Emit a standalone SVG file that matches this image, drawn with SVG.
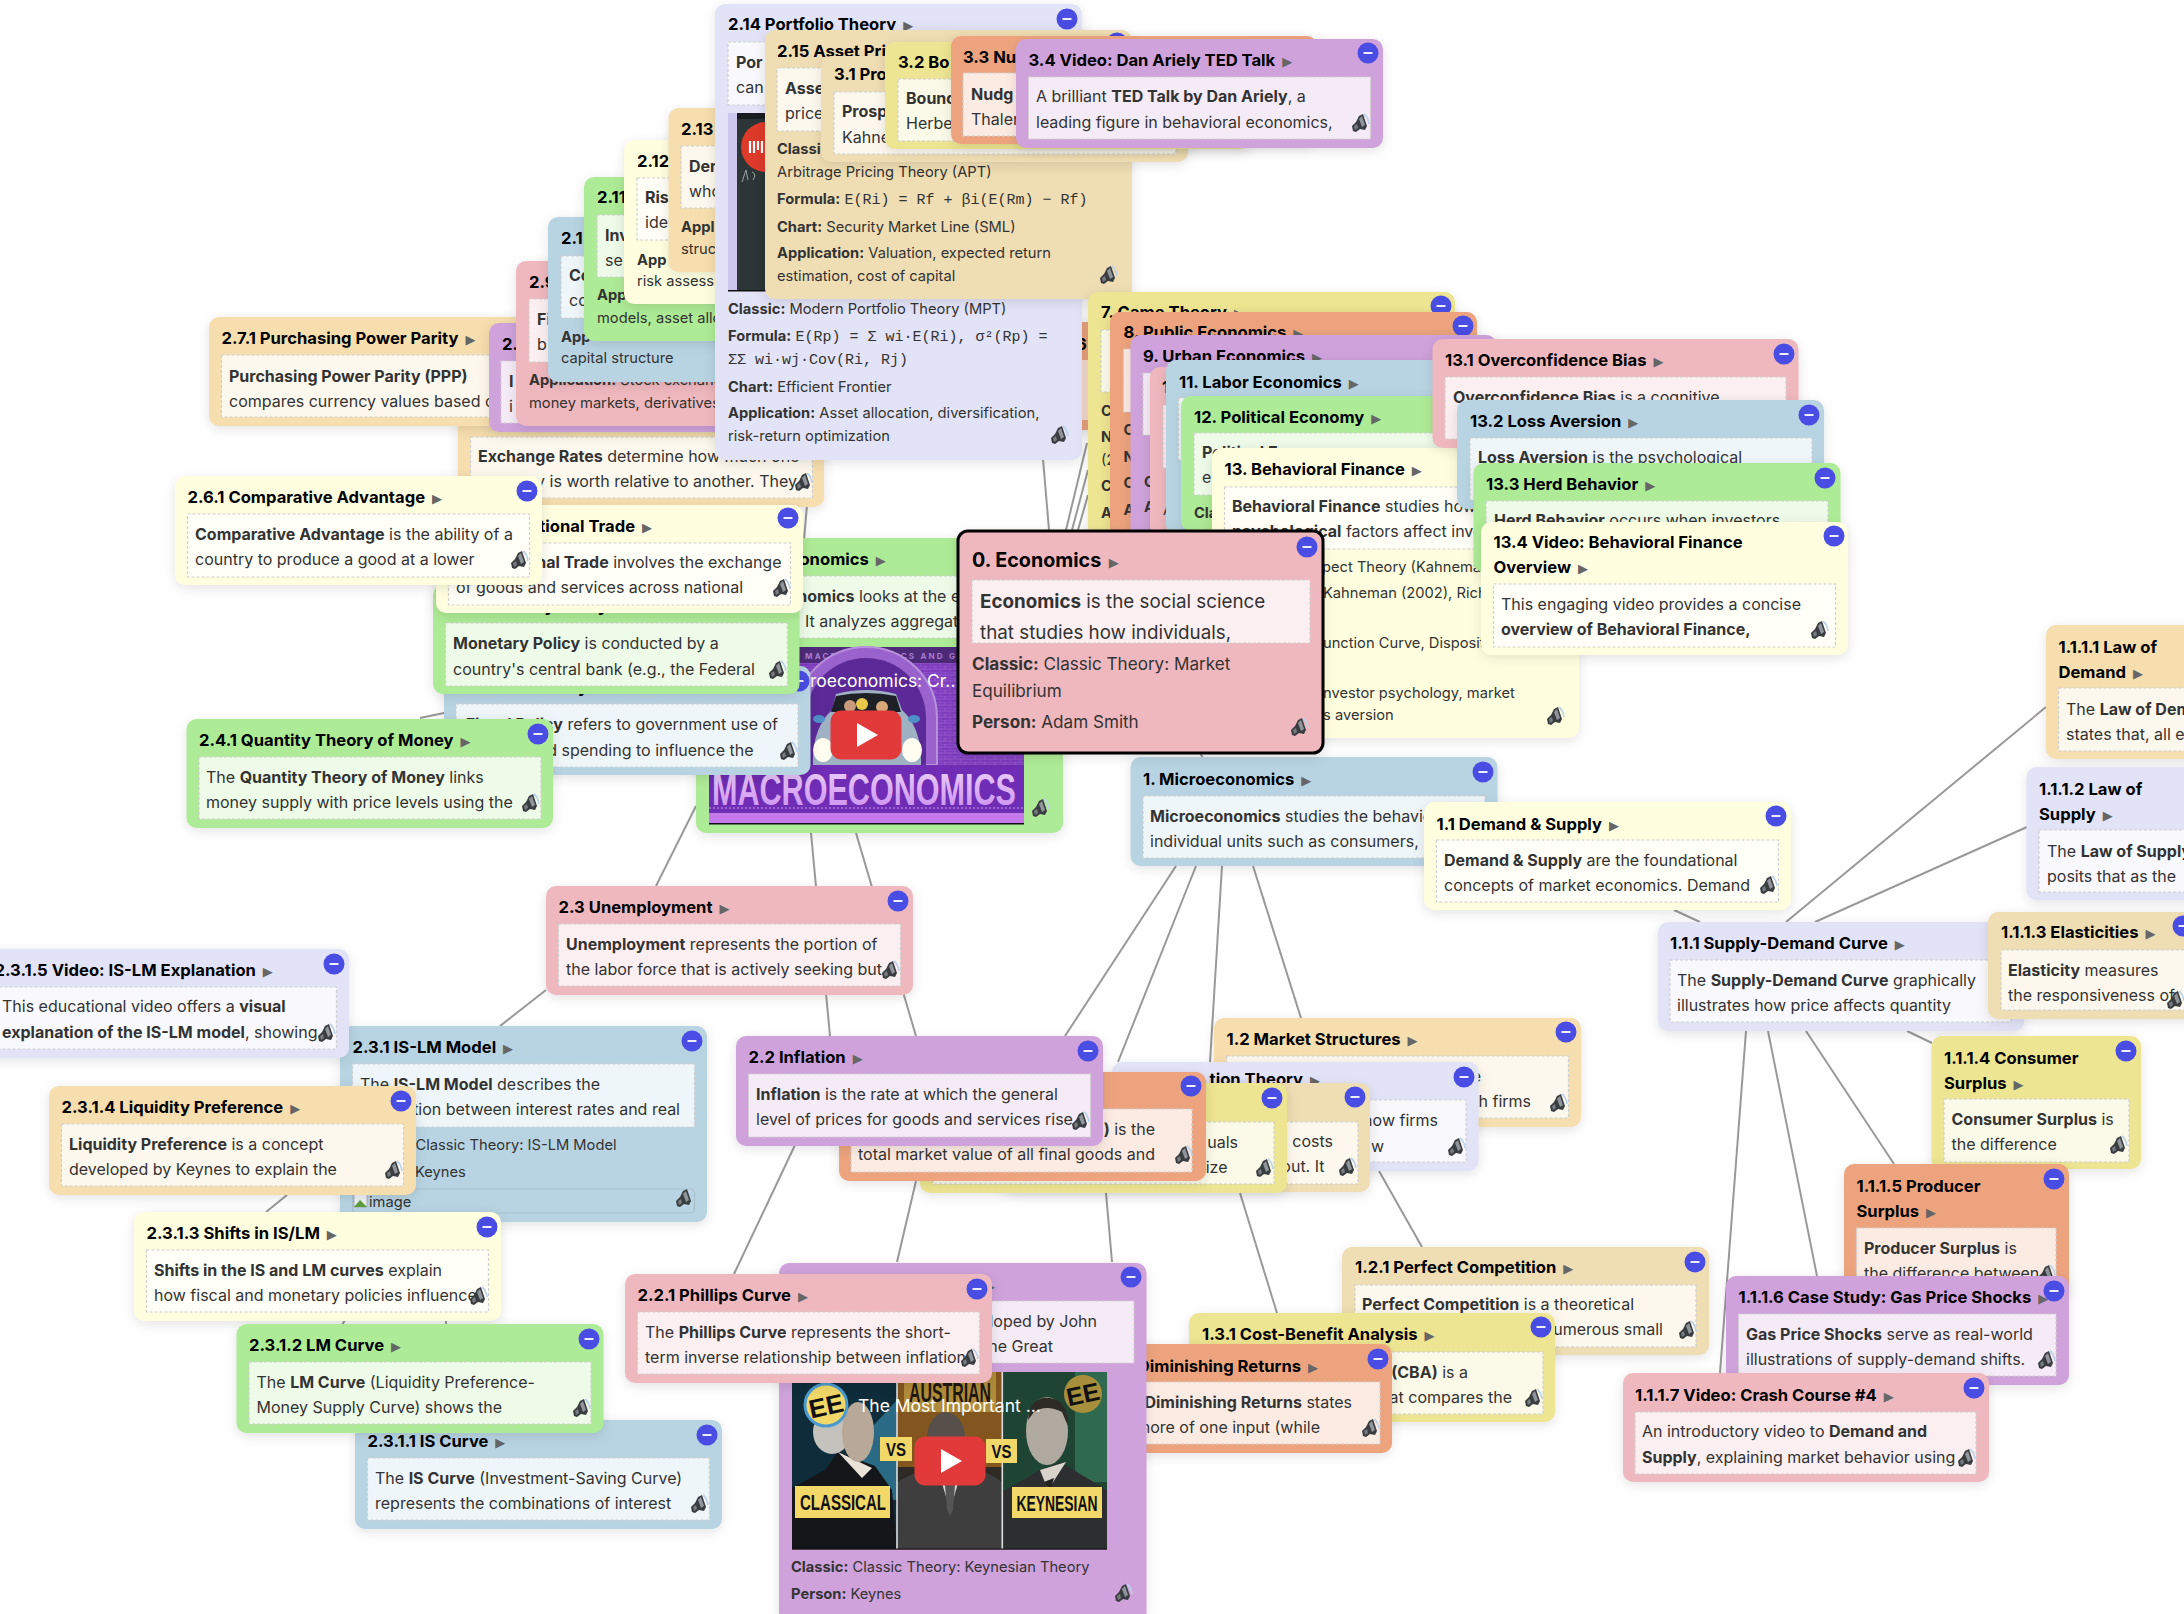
<svg xmlns="http://www.w3.org/2000/svg" width="2184" height="1614" viewBox="0 0 2184 1614">
<style>
text{font-family:Inter,"Noto Sans","Liberation Sans",sans-serif;fill:#333}
.card{filter:drop-shadow(0 3px 6px rgba(0,0,0,.11))}
.pink{fill:#efb8be}.purple{fill:#cfa2db}.blue{fill:#b8d4e3}.green{fill:#aeeb96}.yel{fill:#ffffe0}.wheat{fill:#f6deae}.khaki{fill:#ede591}.org{fill:#eda47e}.lav{fill:#e2e3f7}.tan{fill:#efddb3}
.box{fill:rgba(255,255,255,.78);stroke:#d0d0d0;stroke-width:1.2;stroke-dasharray:3 2}
.t{font-size:16.600px;font-weight:700;fill:#000}
.a{font-size:13px;fill:#666;font-weight:400;font-family:"DejaVu Sans",sans-serif}
.b{font-size:16px}
.s{font-size:14.700px}
.h{font-weight:700}
.e{text-anchor:end}
.m{font-family:"Liberation Mono",monospace;font-size:15px}
.conn line{stroke:#999;stroke-width:2}
.vt{font-weight:700;fill:#111;font-family:"Liberation Sans",sans-serif}
</style>
<defs>
<g id="btn"><circle r="10.500" fill="#4a4de3"/><rect x="-4.500" y="-.9" width="9" height="1.800" fill="#fff"/></g>
<g id="spk"><path d="M-8 3-4-1-1-7 3-9 7 3 5 7 0 6-4 9-7 8Z" fill="#3a3d40"/><path d="M-1-4 2-7 5 2 2 4Z" fill="#8f959a"/><path d="M-6 3-3 1-2 5-5 7Z" fill="#777c80"/><path d="M4-9Q8-6 9 1" fill="none" stroke="#bcd2e8" stroke-width="1.600"/></g>
<g id="play"><rect x="-35.500" y="-24.500" width="71" height="49" rx="11" fill="#e23a3a"/><path d="M-9-12 12 0-9 12Z" fill="#fff"/></g>
<linearGradient id="mv" x1="0" y1="0" x2="1" y2="0"><stop offset="0" stop-color="#6a2bb8"/><stop offset=".5" stop-color="#8a3bcc"/><stop offset="1" stop-color="#7d33c0"/></linearGradient>
<linearGradient id="mt" x1="0" y1="0" x2="0" y2="1"><stop offset="0" stop-color="#f0d4fa"/><stop offset="1" stop-color="#c98af0"/></linearGradient>
<pattern id="bk" width="10" height="6" patternUnits="userSpaceOnUse"><rect width="10" height="6" fill="#7f3dbe"/><path d="M0 0H10M0 3H10M5 0V3M0 3V6" stroke="#9a62d2" stroke-width=".7"/></pattern>
</defs>

<g class="conn" id="connectors">
<line x1="1049" y1="530" x2="1043" y2="459"/><line x1="1066" y1="530" x2="1087" y2="443"/><line x1="1072" y1="530" x2="1088" y2="470"/><line x1="1078" y1="530" x2="1088" y2="495"/>
<line x1="804" y1="540" x2="807" y2="505"/><line x1="1199" y1="750" x2="1205" y2="763"/>
<line x1="696" y1="806" x2="656" y2="886"/><line x1="811" y1="833" x2="830" y2="1036"/><line x1="856" y1="833" x2="916" y2="1036"/>
<line x1="795" y1="1145" x2="734" y2="1274"/><line x1="916" y1="1181" x2="897" y2="1262"/><line x1="1106" y1="1193" x2="1112" y2="1262"/>
<line x1="1176" y1="866" x2="1065" y2="1036"/><line x1="1196" y1="866" x2="1118" y2="1062"/><line x1="1222" y1="866" x2="1210" y2="1062"/><line x1="1253" y1="866" x2="1301" y2="1018"/>
<line x1="1240" y1="1193" x2="1277" y2="1313"/><line x1="1379" y1="1171" x2="1422" y2="1247"/>
<line x1="1674" y1="910" x2="1700" y2="922"/><line x1="1746" y1="1031" x2="1720" y2="1373"/><line x1="1768" y1="1031" x2="1817" y2="1276"/><line x1="1806" y1="1031" x2="1894" y2="1164"/><line x1="1907" y1="1031" x2="1932" y2="1043"/>
<line x1="2046" y1="707" x2="1786" y2="922"/><line x1="2027" y1="827" x2="1815" y2="922"/>
<line x1="546" y1="990" x2="500" y2="1026"/><line x1="287" y1="1195" x2="266" y2="1212"/><line x1="345" y1="1320" x2="342" y2="1325"/><line x1="446" y1="1320" x2="446" y2="1325"/><line x1="420" y1="718" x2="444" y2="713"/>
</g>

<g id="n2" class="node">
<rect class="card green" x="696" y="538" width="367" height="295" rx="10"/>
<text class="t" x="709" y="565">2. Macroeconomics <tspan class="a" dx="3">▶</tspan></text>
<rect class="box" x="709" y="576" width="342" height="62"/>
<text class="b" x="719" y="602"><tspan class="h">Macroeconomics</tspan> looks at the economy</text>
<text class="b" x="805" y="627">It analyzes aggregate</text>
<rect x="709" y="647" width="315" height="177" fill="url(#bk)"/>
<rect x="709" y="647" width="315" height="16" fill="#4d2a78"/>
<text x="805" y="659" font-size="8" style="fill:#a87cd0;font-weight:700;letter-spacing:2.200px">MACROECONOMICS AND GDP</text>
<path d="M795 765V718A71 71 0 0 1 937 718V765Z" fill="#9a62cc" stroke="#b890dc" stroke-width="2"/>
<path d="M806 765V718A60 60 0 0 1 926 718V765Z" fill="#5c2a98"/>
<path d="M813 765Q812 728 832 710L836 694Q866 686 896 694L902 710Q922 728 921 765Z" fill="#9eb2c4"/>
<path d="M831 712 836 696Q866 690 896 696L901 712Z" fill="#1d2026"/>
<circle cx="850" cy="706" r="6" fill="#c99a7c"/><circle cx="862" cy="704" r="6" fill="#e8c848"/><circle cx="882" cy="707" r="6" fill="#d8a878"/>
<ellipse cx="819" cy="719" rx="6" ry="4" fill="#4f8fc8"/><ellipse cx="914" cy="719" rx="6" ry="4" fill="#4f8fc8"/>
<ellipse cx="823" cy="750" rx="10" ry="12" fill="#fffdf0"/><ellipse cx="912" cy="750" rx="10" ry="12" fill="#fffdf0"/>
<text x="810" y="687" font-size="17.500" style="fill:#fff">roeconomics: Cr...</text>
<rect x="709" y="765" width="315" height="48" fill="#6f2cb4"/>
<text class="vt" x="712" y="805" font-size="45" textLength="304" lengthAdjust="spacingAndGlyphs" style="fill:url(#mt)">MACROECONOMICS</text>
<path d="M709 808H1024" stroke="#c89ce8" stroke-width="1" stroke-dasharray="2 2"/>
<rect x="709" y="813" width="315" height="11" fill="#c679ea"/><rect x="709" y="823" width="315" height="1.500" fill="#111"/>
<use href="#play" x="866" y="735"/>
<use href="#spk" x="1040" y="808"/>
</g>

<g id="n2-7" class="node">
<rect class="card wheat" x="458" y="398" width="366" height="109" rx="10"/>
<rect class="box" x="470.500" y="437" width="342" height="61"/>
<text class="b" x="478" y="462"><tspan class="h">Exchange Rates</tspan> determine how much one</text>
<text class="b e" x="797" y="487">currency is worth relative to another. They</text>
<use href="#spk" x="803" y="482"/>
</g>
<g id="n2-7-1" class="node">
<rect class="card wheat" x="209" y="317" width="367" height="109" rx="10"/>
<text class="t" x="221.500" y="344">2.7.1 Purchasing Power Parity <tspan class="a" dx="3">▶</tspan></text>
<rect class="box" x="221.500" y="355" width="342" height="62"/>
<text class="b" x="229" y="382"><tspan class="h">Purchasing Power Parity (PPP)</tspan></text>
<text class="b" x="229" y="407">compares currency values based on</text>
</g>
<g id="n2-8" class="node">
<rect class="card purple" x="489" y="323" width="367" height="109" rx="10"/>
<text class="t" x="502" y="350">2.</text>
<rect class="box" x="501" y="361" width="342" height="62"/>
<text class="b h" x="509" y="387">I</text><text class="b" x="509" y="412">i</text>
</g>
<g id="n2-9" class="node">
<rect class="card pink" x="516" y="261" width="367" height="165" rx="10"/>
<text class="t" x="529" y="288">2.9</text>
<rect class="box" x="529" y="299" width="342" height="63"/>
<text class="b h" x="537" y="325">Fi</text><text class="b" x="537" y="350">b</text>
<text class="s" x="529" y="385"><tspan class="h">Application:</tspan> Stock exchanges,</text>
<text class="s" x="529" y="408">money markets, derivatives</text>
</g>
<g id="n2-10" class="node">
<rect class="card blue" x="548" y="217" width="367" height="165" rx="10"/>
<text class="t" x="561" y="244">2.1</text>
<rect class="box" x="561" y="256" width="342" height="62"/>
<text class="b h" x="569" y="281">Co</text><text class="b" x="569" y="306">cc</text>
<text class="s h" x="561" y="342">App</text>
<text class="s" x="561" y="363">capital structure</text>
</g>
<g id="n2-11" class="node">
<rect class="card green" x="584" y="177" width="367" height="164" rx="10"/>
<text class="t" x="597" y="203">2.11</text>
<rect class="box" x="597" y="215" width="342" height="62"/>
<text class="b h" x="605" y="241">Inv</text><text class="b" x="605" y="266">se</text>
<text class="s h" x="597" y="300">App</text>
<text class="s" x="597" y="323">models, asset allo</text>
</g>
<g id="n2-12" class="node">
<rect class="card yel" x="624" y="140" width="367" height="164" rx="10"/>
<text class="t" x="637" y="167">2.12</text>
<rect class="box" x="637" y="178" width="342" height="62"/>
<text class="b h" x="645" y="203">Ris</text><text class="b" x="645" y="228">ide</text>
<text class="s h" x="637" y="265">App</text>
<text class="s" x="637" y="286">risk assessm</text>
</g>
<g id="n2-13" class="node">
<rect class="card wheat" x="668.500" y="108" width="367" height="164" rx="10"/>
<text class="t" x="681" y="135">2.13</text>
<rect class="box" x="681" y="146" width="342" height="62"/>
<text class="b h" x="689" y="172">Der</text><text class="b" x="689" y="197">who</text>
<text class="s h" x="681" y="232">Appl</text>
<text class="s" x="681" y="254">struc</text>
</g>
<g id="n6" class="node">
<rect class="card org" x="1000" y="322" width="100" height="108" rx="10"/>
<rect x="1000" y="360" width="100" height="60" fill="#f7dcd0"/>
<text class="t" x="1076" y="350">6</text>
</g>
<g id="n2-14" class="node">
<rect class="card lav" x="715" y="4" width="367" height="456" rx="10"/>
<text class="t" x="728" y="30">2.14 Portfolio Theory <tspan class="a" dx="3">▶</tspan></text>
<rect class="box" x="728" y="42" width="342" height="63"/>
<text class="b h" x="736" y="68">Por</text><text class="b" x="736" y="93">can</text>
<rect x="728" y="113" width="60" height="178" fill="#2c3636"/>
<rect x="728" y="113" width="9" height="178" fill="#cdc7ee"/>
<rect x="737" y="113" width="50" height="6" fill="#181c20"/>
<circle cx="766" cy="147" r="25" fill="#de3a2a"/>
<path d="M750 141v12M754 141v12M758 141v9M762 141v12" stroke="#fff" stroke-width="2.200"/>
<path d="M742 182 746 170 748 180M752 172Q757 174 753 180" fill="none" stroke="#9aa4a4" stroke-width="1"/>
<rect x="728" y="290" width="60" height="1.500" fill="#111"/>
<text class="s" x="728" y="314"><tspan class="h">Classic:</tspan> Modern Portfolio Theory (MPT)</text>
<text class="s" x="728" y="341"><tspan class="h">Formula:</tspan> <tspan class="m">E(Rp) = Σ wi·E(Ri), σ²(Rp) =</tspan></text>
<text class="m" x="728" y="364">ΣΣ wi·wj·Cov(Ri, Rj)</text>
<text class="s" x="728" y="392"><tspan class="h">Chart:</tspan> Efficient Frontier</text>
<text class="s" x="728" y="418"><tspan class="h">Application:</tspan> Asset allocation, diversification,</text>
<text class="s" x="728" y="441">risk-return optimization</text>
<use href="#btn" x="1067" y="19"/><use href="#spk" x="1059" y="435"/>
</g>
<g id="n2-15" class="node">
<rect class="card tan" x="765" y="30" width="367" height="269" rx="10"/>
<text class="t" x="777" y="57">2.15 Asset Pri</text>
<rect class="box" x="777" y="68" width="342" height="63"/>
<text class="b h" x="785" y="94">Asse</text><text class="b" x="785" y="119">price</text>
<text class="s h" x="777" y="154">Classi</text>
<text class="s" x="777" y="177">Arbitrage Pricing Theory (APT)</text>
<text class="s" x="777" y="204"><tspan class="h">Formula:</tspan> <tspan class="m">E(Ri) = Rf + βi(E(Rm) − Rf)</tspan></text>
<text class="s" x="777" y="232"><tspan class="h">Chart:</tspan> Security Market Line (SML)</text>
<text class="s" x="777" y="258"><tspan class="h">Application:</tspan> Valuation, expected return</text>
<text class="s" x="777" y="281">estimation, cost of capital</text>
<use href="#btn" x="1117" y="43"/><use href="#spk" x="1108" y="275"/>
</g>
<g id="n3-1" class="node">
<rect class="card tan" x="821" y="56" width="367" height="106" rx="10"/>
<text class="t" x="834" y="80">3.1 Pro</text>
<rect class="box" x="834" y="92" width="342" height="62"/>
<text class="b h" x="842" y="117">Prosp</text><text class="b" x="842" y="143">Kahne</text>
</g>
<g id="n3-2" class="node">
<rect class="card khaki" x="885" y="42" width="365" height="107" rx="10"/>
<text class="t" x="898" y="68">3.2 Bo</text>
<rect class="box" x="898" y="79" width="340" height="62"/>
<text class="b h" x="906" y="104">Bound</text><text class="b" x="906" y="129">Herbe</text>
</g>
<g id="n3-3" class="node">
<rect class="card org" x="951" y="36" width="366" height="108" rx="10"/>
<text class="t" x="963" y="63">3.3 Nu</text>
<rect class="box" x="963" y="73" width="342" height="63"/>
<text class="b h" x="971" y="100">Nudg</text><text class="b" x="971" y="125">Thaler</text>
</g>
<g id="n3-4" class="node">
<rect class="card purple" x="1016" y="39" width="367" height="109" rx="10"/>
<text class="t" x="1028.500" y="66">3.4 Video: Dan Ariely TED Talk <tspan class="a" dx="3">▶</tspan></text>
<rect class="box" x="1028.500" y="77" width="342" height="62"/>
<text class="b" x="1036" y="102">A brilliant <tspan class="h">TED Talk by Dan Ariely</tspan>, a</text>
<text class="b" x="1036" y="128">leading figure in behavioral economics,</text>
<use href="#btn" x="1368" y="53"/><use href="#spk" x="1360" y="123"/>
</g>

<g id="n7" class="node">
<rect class="card khaki" x="1088" y="292" width="367" height="245" rx="10"/>
<text class="t" x="1101" y="318">7. Game Theory <tspan class="a" dx="3">▶</tspan></text>
<rect class="box" x="1101" y="330" width="342" height="62"/>
<text class="s h" x="1101" y="416">C</text><text class="s h" x="1101" y="442">N</text><text class="s" x="1101" y="465">(2</text><text class="s h" x="1101" y="491">C</text><text class="s h" x="1101" y="518">A</text>
<use href="#btn" x="1441" y="306"/>
</g>
<g id="n8" class="node">
<rect class="card org" x="1110" y="312" width="367" height="225" rx="10"/>
<text class="t" x="1123.500" y="338">8. Public Economics <tspan class="a" dx="3">▶</tspan></text>
<rect class="box" x="1123.500" y="349" width="342" height="63"/>
<text class="s h" x="1123.500" y="435">C</text><text class="s h" x="1123.500" y="462">N</text><text class="s h" x="1123.500" y="488">C</text><text class="s h" x="1123.500" y="515">A</text>
<use href="#btn" x="1463" y="326"/>
</g>
<g id="n9" class="node">
<rect class="card purple" x="1130.500" y="335" width="366" height="205" rx="10"/>
<text class="t" x="1143" y="362">9. Urban Economics <tspan class="a" dx="3">▶</tspan></text>
<rect class="box" x="1143" y="373" width="342" height="62"/>
<text class="s h" x="1144" y="487">C</text><text class="s h" x="1144" y="512">A</text>
</g>
<g id="n10" class="node">
<rect class="card pink" x="1150" y="367" width="367" height="170" rx="10"/>
<text class="t" x="1162" y="393">1</text>
<rect class="box" x="1163" y="405" width="342" height="63"/>
<text class="s" x="1163" y="515">A</text>
</g>
<g id="n11" class="node">
<rect class="card blue" x="1166" y="360" width="367" height="175" rx="10"/>
<text class="t" x="1179" y="388">11. Labor Economics <tspan class="a" dx="3">▶</tspan></text>
<rect class="box" x="1178.500" y="398" width="342" height="62"/>
</g>
<g id="n12" class="node">
<rect class="card green" x="1181" y="396" width="367" height="135" rx="10"/>
<text class="t" x="1194" y="423">12. Political Economy <tspan class="a" dx="3">▶</tspan></text>
<rect class="box" x="1194" y="433" width="342" height="62"/>
<text class="b" x="1202" y="458"><tspan class="h">Political Economy</tspan></text>
<text class="b" x="1202" y="483">e</text>
<text class="s h" x="1194" y="518">Cla</text>
</g>
<g id="n13" class="node">
<rect class="card yel" x="1212" y="448" width="367" height="290" rx="10"/>
<text class="t" x="1224.500" y="475">13. Behavioral Finance <tspan class="a" dx="3">▶</tspan></text>
<rect class="box" x="1224.500" y="487" width="342" height="62"/>
<text class="b" x="1232" y="512"><tspan class="h">Behavioral Finance</tspan> studies how</text>
<text class="b" x="1232" y="537"><tspan class="h">psychological</tspan> factors affect investor</text>
<text class="s" x="1322" y="572">pect Theory (Kahneman</text>
<text class="s" x="1323" y="598">Kahneman (2002), Richard</text>
<text class="s" x="1323" y="648">unction Curve, Disposition</text>
<text class="s" x="1323" y="698">nvestor psychology, market</text>
<text class="s" x="1323" y="720">s aversion</text>
<use href="#spk" x="1555" y="716"/>
</g>
<g id="n13-1" class="node">
<rect class="card pink" x="1432.500" y="339" width="366" height="109" rx="10"/>
<text class="t" x="1445" y="366">13.1 Overconfidence Bias <tspan class="a" dx="3">▶</tspan></text>
<rect class="box" x="1445" y="377" width="341" height="62"/>
<text class="b" x="1453" y="403"><tspan class="h">Overconfidence Bias</tspan> is a cognitive</text>
<use href="#btn" x="1784" y="354"/>
</g>
<g id="n13-2" class="node">
<rect class="card blue" x="1457" y="400" width="367" height="109" rx="10"/>
<text class="t" x="1470" y="427">13.2 Loss Aversion <tspan class="a" dx="3">▶</tspan></text>
<rect class="box" x="1470" y="438" width="342" height="62"/>
<text class="b" x="1478" y="463"><tspan class="h">Loss Aversion</tspan> is the psychological</text>
<use href="#btn" x="1809" y="415"/>
</g>
<g id="n13-3" class="node">
<rect class="card green" x="1473.500" y="463" width="367" height="109" rx="10"/>
<text class="t" x="1486" y="490">13.3 Herd Behavior <tspan class="a" dx="3">▶</tspan></text>
<rect class="box" x="1486" y="501" width="342" height="62"/>
<text class="b" x="1494" y="526"><tspan class="h">Herd Behavior</tspan> occurs when investors</text>
<use href="#btn" x="1825" y="478"/>
</g>
<g id="n13-4" class="node">
<rect class="card yel" x="1481" y="522" width="367" height="133" rx="10"/>
<text class="t" x="1493.500" y="548">13.4 Video: Behavioral Finance</text>
<text class="t" x="1493.500" y="573">Overview <tspan class="a" dx="3">▶</tspan></text>
<rect class="box" x="1493.500" y="584" width="342" height="63"/>
<text class="b" x="1501" y="610">This engaging video provides a concise</text>
<text class="b" x="1501" y="635"><tspan class="h">overview of Behavioral Finance,</tspan></text>
<use href="#btn" x="1834" y="536"/><use href="#spk" x="1819" y="630"/>
</g>

<g id="n1" class="node">
<rect class="card blue" x="1130.500" y="757" width="367" height="109" rx="10"/>
<text class="t" x="1143" y="785">1. Microeconomics <tspan class="a" dx="3">▶</tspan></text>
<rect class="box" x="1143" y="796" width="342" height="62"/>
<text class="b" x="1150" y="822"><tspan class="h">Microeconomics</tspan> studies the behavior of</text>
<text class="b" x="1150" y="847">individual units such as consumers,</text>
<use href="#btn" x="1483" y="772"/>
</g>
<g id="n1-1" class="node">
<rect class="card yel" x="1424" y="802" width="367" height="108" rx="10"/>
<text class="t" x="1436.500" y="830">1.1 Demand &amp; Supply <tspan class="a" dx="3">▶</tspan></text>
<rect class="box" x="1436.500" y="840" width="342" height="62"/>
<text class="b" x="1444" y="866"><tspan class="h">Demand &amp; Supply</tspan> are the foundational</text>
<text class="b" x="1444" y="891">concepts of market economics. Demand</text>
<use href="#btn" x="1776" y="816"/><use href="#spk" x="1768" y="885"/>
</g>
<g id="n1-1-1" class="node">
<rect class="card lav" x="1658" y="922" width="366" height="109" rx="10"/>
<text class="t" x="1670" y="949">1.1.1 Supply-Demand Curve <tspan class="a" dx="3">▶</tspan></text>
<rect class="box" x="1670" y="960" width="341" height="62"/>
<text class="b" x="1677" y="986">The <tspan class="h">Supply-Demand Curve</tspan> graphically</text>
<text class="b" x="1677" y="1011">illustrates how price affects quantity</text>
</g>
<g id="n1-1-1-1" class="node">
<rect class="card wheat" x="2046" y="625" width="167" height="134" rx="10"/>
<text class="t" x="2058.500" y="653">1.1.1.1 Law of</text>
<text class="t" x="2058.500" y="678">Demand <tspan class="a" dx="3">▶</tspan></text>
<rect class="box" x="2058.500" y="688" width="160" height="63"/>
<text class="b" x="2066" y="715">The <tspan class="h">Law of Demand</tspan></text>
<text class="b" x="2066" y="740">states that, all else</text>
</g>
<g id="n1-1-1-2" class="node">
<rect class="card lav" x="2026.500" y="767" width="187" height="133" rx="10"/>
<text class="t" x="2039" y="795">1.1.1.2 Law of</text>
<text class="t" x="2039" y="820">Supply <tspan class="a" dx="3">▶</tspan></text>
<rect class="box" x="2039" y="830" width="180" height="62"/>
<text class="b" x="2047" y="857">The <tspan class="h">Law of Supply</tspan></text>
<text class="b" x="2047" y="882">posits that as the</text>
</g>
<g id="n1-1-1-3" class="node">
<rect class="card tan" x="1988" y="912" width="220" height="107" rx="10"/>
<text class="t" x="2001" y="938">1.1.1.3 Elasticities <tspan class="a" dx="3">▶</tspan></text>
<rect class="box" x="2001" y="950" width="200" height="60"/>
<text class="b" x="2008" y="976"><tspan class="h">Elasticity</tspan> measures</text>
<text class="b" x="2008" y="1001">the responsiveness of</text>
<use href="#btn" x="2183" y="926"/><use href="#spk" x="2175" y="1000"/>
</g>
<g id="n1-1-1-4" class="node">
<rect class="card khaki" x="1931.500" y="1036" width="209.500" height="133" rx="10"/>
<text class="t" x="1944" y="1064">1.1.1.4 Consumer</text>
<text class="t" x="1944" y="1089">Surplus <tspan class="a" dx="3">▶</tspan></text>
<rect class="box" x="1944" y="1099" width="185" height="63"/>
<text class="b" x="1951.500" y="1125"><tspan class="h">Consumer Surplus</tspan> is</text>
<text class="b" x="1951.500" y="1150">the difference</text>
<use href="#btn" x="2126" y="1051"/><use href="#spk" x="2118" y="1145"/>
</g>
<g id="n1-1-1-5" class="node">
<rect class="card org" x="1844" y="1164" width="225" height="134" rx="10"/>
<text class="t" x="1856.500" y="1192">1.1.1.5 Producer</text>
<text class="t" x="1856.500" y="1217">Surplus <tspan class="a" dx="3">▶</tspan></text>
<rect class="box" x="1856.500" y="1228" width="199.500" height="60"/>
<text class="b" x="1864" y="1254"><tspan class="h">Producer Surplus</tspan> is</text>
<text class="b" x="1864" y="1279">the difference between</text>
<use href="#btn" x="2054" y="1179"/><use href="#spk" x="2046" y="1274"/>
</g>
<g id="n1-1-1-6" class="node">
<rect class="card purple" x="1726" y="1276" width="343" height="109" rx="10"/>
<text class="t" x="1738.500" y="1303">1.1.1.6 Case Study: Gas Price Shocks <tspan class="a" dx="3">▶</tspan></text>
<rect class="box" x="1738.500" y="1314" width="317.500" height="62"/>
<text class="b" x="1746" y="1340"><tspan class="h">Gas Price Shocks</tspan> serve as real-world</text>
<text class="b" x="1746" y="1365">illustrations of supply-demand shifts.</text>
<use href="#btn" x="2054" y="1291"/><use href="#spk" x="2046" y="1360"/>
</g>
<g id="n1-1-1-7" class="node">
<rect class="card pink" x="1623" y="1373" width="366" height="109" rx="10"/>
<text class="t" x="1635" y="1401">1.1.1.7 Video: Crash Course #4 <tspan class="a" dx="3">▶</tspan></text>
<rect class="box" x="1635" y="1412" width="341" height="62"/>
<text class="b" x="1642" y="1437">An introductory video to <tspan class="h">Demand and</tspan></text>
<text class="b" x="1642" y="1463"><tspan class="h">Supply</tspan>, explaining market behavior using</text>
<use href="#btn" x="1974" y="1388"/><use href="#spk" x="1966" y="1458"/>
</g>

<g id="n1-2" class="node">
<rect class="card wheat" x="1214" y="1018" width="367" height="109" rx="10"/>
<text class="t" x="1226.500" y="1045">1.2 Market Structures <tspan class="a" dx="3">▶</tspan></text>
<rect class="box" x="1226.500" y="1056" width="342" height="62"/>
<text class="b e" x="1481" y="1082">e</text>
<text class="b e" x="1531" y="1107">h firms</text>
<use href="#btn" x="1566" y="1032"/><use href="#spk" x="1558" y="1103"/>
</g>
<g id="n1-4" class="node">
<rect class="card lav" x="1112" y="1062" width="366.500" height="109" rx="10"/>
<text class="t e" x="1320" y="1085">tion Theory <tspan class="a" dx="3">▶</tspan></text>
<rect class="box" x="1124" y="1100" width="342" height="62"/>
<text class="b e" x="1438" y="1126">how firms</text>
<text class="b e" x="1384" y="1152">w</text>
<use href="#btn" x="1464" y="1077"/><use href="#spk" x="1456" y="1147"/>
</g>
<g id="n1-3b" class="node">
<rect class="card tan" x="1003" y="1083" width="367" height="109" rx="10"/>
<rect class="box" x="1015" y="1122" width="343" height="62"/>
<text class="b e" x="1333" y="1147">costs</text>
<text class="b e" x="1324.500" y="1172">out. It</text>
<use href="#btn" x="1355" y="1097"/><use href="#spk" x="1347" y="1167"/>
</g>
<g id="n1-3" class="node">
<rect class="card khaki" x="920" y="1083" width="367" height="110" rx="10"/>
<rect class="box" x="933" y="1122" width="341" height="62"/>
<text class="b e" x="1238" y="1148">uals</text>
<text class="b e" x="1227.500" y="1173">mize</text>
<use href="#btn" x="1272" y="1098"/><use href="#spk" x="1264" y="1168"/>
</g>
<g id="n2-gdp" class="node">
<rect class="card org" x="839" y="1072" width="367" height="109" rx="10"/>
<rect class="box" x="851" y="1109" width="341" height="63"/>
<text class="b e" x="1155" y="1135"><tspan class="h">)</tspan> is the</text>
<text class="b" x="858" y="1160">total market value of all final goods and</text>
<use href="#btn" x="1191" y="1086"/><use href="#spk" x="1183" y="1155"/>
</g>
<g id="n2-2" class="node">
<rect class="card purple" x="736" y="1036" width="367" height="110" rx="10"/>
<text class="t" x="748.500" y="1063">2.2 Inflation <tspan class="a" dx="3">▶</tspan></text>
<rect class="box" x="748.500" y="1074" width="342" height="63"/>
<text class="b" x="756" y="1100"><tspan class="h">Inflation</tspan> is the rate at which the general</text>
<text class="b" x="756" y="1125">level of prices for goods and services rise</text>
<use href="#btn" x="1088" y="1051"/><use href="#spk" x="1080" y="1121"/>
</g>
<g id="n2-3" class="node">
<rect class="card pink" x="546" y="886" width="367" height="109" rx="10"/>
<text class="t" x="558.500" y="913">2.3 Unemployment <tspan class="a" dx="3">▶</tspan></text>
<rect class="box" x="558.500" y="924" width="342" height="62"/>
<text class="b" x="566" y="950"><tspan class="h">Unemployment</tspan> represents the portion of</text>
<text class="b" x="566" y="975">the labor force that is actively seeking but</text>
<use href="#btn" x="898" y="901"/><use href="#spk" x="890" y="970"/>
</g>
<g id="n2-3-1" class="node">
<rect class="card blue" x="340" y="1026" width="367" height="196" rx="10"/>
<text class="t" x="352.500" y="1053">2.3.1 IS-LM Model <tspan class="a" dx="3">▶</tspan></text>
<rect class="box" x="352.500" y="1064" width="342" height="63"/>
<text class="b" x="360" y="1090">The <tspan class="h">IS-LM Model</tspan> describes the</text>
<text class="b e" x="680" y="1115">relation between interest rates and real</text>
<text class="s" x="415.500" y="1150">Classic Theory: IS-LM Model</text>
<text class="s" x="415" y="1177">Keynes</text>
<rect x="352.500" y="1189" width="342" height="24" rx="4" fill="none" stroke="#a9bfcc"/>
<path d="M354 1194h13v13h-13Z" fill="#eef3f6" stroke="#aab"/><path d="M354 1207l6-7 7 7Z" fill="#5a9e3a"/>
<text class="s" x="369" y="1207">image</text>
<use href="#btn" x="692" y="1041"/><use href="#spk" x="684" y="1198"/>
</g>
<g id="n2-3-1-5" class="node">
<rect class="card lav" x="-18" y="949" width="367" height="109" rx="10"/>
<text class="t" x="-5.500" y="976">2.3.1.5 Video: IS-LM Explanation <tspan class="a" dx="3">▶</tspan></text>
<rect class="box" x="-5.500" y="987" width="342" height="62"/>
<text class="b" x="2" y="1012">This educational video offers a <tspan class="h">visual</tspan></text>
<text class="b" x="2" y="1038"><tspan class="h">explanation of the IS-LM model</tspan>, showing</text>
<use href="#btn" x="334" y="964"/><use href="#spk" x="326" y="1033"/>
</g>
<g id="n2-3-1-4" class="node">
<rect class="card wheat" x="49" y="1086" width="367" height="109" rx="10"/>
<text class="t" x="61.500" y="1113">2.3.1.4 Liquidity Preference <tspan class="a" dx="3">▶</tspan></text>
<rect class="box" x="61.500" y="1124" width="342" height="62"/>
<text class="b" x="69" y="1150"><tspan class="h">Liquidity Preference</tspan> is a concept</text>
<text class="b" x="69" y="1175">developed by Keynes to explain the</text>
<use href="#btn" x="401" y="1101"/><use href="#spk" x="393" y="1170"/>
</g>
<g id="n2-3-1-3" class="node">
<rect class="card yel" x="134" y="1212" width="367" height="109" rx="10"/>
<text class="t" x="146.500" y="1239">2.3.1.3 Shifts in IS/LM <tspan class="a" dx="3">▶</tspan></text>
<rect class="box" x="146.500" y="1250" width="342" height="62"/>
<text class="b" x="154" y="1276"><tspan class="h">Shifts in the IS and LM curves</tspan> explain</text>
<text class="b" x="154" y="1301">how fiscal and monetary policies influence</text>
<use href="#btn" x="487" y="1227"/><use href="#spk" x="478" y="1296"/>
</g>
<g id="n2-3-1-1" class="node">
<rect class="card blue" x="355" y="1420" width="367" height="109" rx="10"/>
<text class="t" x="367.500" y="1447">2.3.1.1 IS Curve <tspan class="a" dx="3">▶</tspan></text>
<rect class="box" x="367.500" y="1458" width="342" height="62"/>
<text class="b" x="375" y="1484">The <tspan class="h">IS Curve</tspan> (Investment-Saving Curve)</text>
<text class="b" x="375" y="1509">represents the combinations of interest</text>
<use href="#btn" x="707" y="1435"/><use href="#spk" x="699" y="1504"/>
</g>
<g id="n2-3-1-2" class="node">
<rect class="card green" x="236.500" y="1324" width="367" height="109" rx="10"/>
<text class="t" x="249" y="1351">2.3.1.2 LM Curve <tspan class="a" dx="3">▶</tspan></text>
<rect class="box" x="249" y="1362" width="342" height="62"/>
<text class="b" x="256.500" y="1388">The <tspan class="h">LM Curve</tspan> (Liquidity Preference-</text>
<text class="b" x="256.500" y="1413">Money Supply Curve) shows the</text>
<use href="#btn" x="589" y="1339"/><use href="#spk" x="581" y="1408"/>
</g>

<g id="n1-2-1" class="node">
<rect class="card tan" x="1342" y="1247" width="367" height="108" rx="10"/>
<text class="t" x="1355" y="1273">1.2.1 Perfect Competition <tspan class="a" dx="3">▶</tspan></text>
<rect class="box" x="1355" y="1285" width="341" height="62"/>
<text class="b" x="1362" y="1310"><tspan class="h">Perfect Competition</tspan> is a theoretical</text>
<text class="b e" x="1663" y="1335">numerous small</text>
<use href="#btn" x="1695" y="1262"/><use href="#spk" x="1687" y="1330"/>
</g>
<g id="n1-3-1" class="node">
<rect class="card khaki" x="1189" y="1313" width="366" height="109" rx="10"/>
<text class="t" x="1202" y="1340">1.3.1 Cost-Benefit Analysis <tspan class="a" dx="3">▶</tspan></text>
<rect class="box" x="1202" y="1352" width="341" height="62"/>
<text class="b e" x="1468" y="1378"><tspan class="h">(CBA)</tspan> is a</text>
<text class="b e" x="1512" y="1403">that compares the</text>
<use href="#btn" x="1541" y="1327"/><use href="#spk" x="1533" y="1398"/>
</g>
<g id="n1-3-2" class="node">
<rect class="card org" x="1026" y="1344" width="366" height="109" rx="10"/>
<text class="t e" x="1318" y="1372">Diminishing Returns <tspan class="a" dx="3">▶</tspan></text>
<rect class="box" x="1038" y="1382" width="342" height="62"/>
<text class="b e" x="1352" y="1408"><tspan class="h">Diminishing Returns</tspan> states</text>
<text class="b e" x="1320" y="1433">more of one input (while</text>
<use href="#btn" x="1378" y="1359"/><use href="#spk" x="1370" y="1428"/>
</g>
<g id="n2-1" class="node">
<rect class="card purple" x="779" y="1263" width="367.500" height="360" rx="10"/>
<text class="a" x="985" y="1291">▶</text>
<rect class="box" x="791" y="1301" width="343" height="62"/>
<text class="b e" x="1097" y="1327">loped by John</text>
<text class="b e" x="1053" y="1352">he Great</text>
<rect x="792" y="1372" width="105" height="177" fill="#0f2c3b"/>
<path d="M860 1440 897 1400V1500H860Z" fill="#2a6a85"/>
<rect x="897" y="1372" width="105" height="177" fill="#2e2a26"/>
<rect x="897" y="1372" width="105" height="95" fill="#84561f"/>
<rect x="1002" y="1372" width="105" height="177" fill="#1e4434"/>
<rect x="1075" y="1372" width="32" height="110" fill="#2f6a50"/>
<rect x="904" y="1372" width="92" height="40" fill="#b08c3a"/>
<text class="vt" x="950" y="1402" text-anchor="middle" font-size="27" textLength="82" lengthAdjust="spacingAndGlyphs" style="fill:#1e1810">AUSTRIAN</text>
<ellipse cx="946" cy="1438" rx="19" ry="26" fill="#57504a"/>
<path d="M897 1549V1482Q925 1466 950 1464 980 1466 1002 1482V1549Z" fill="#3e3e3e"/>
<path d="M938 1470 950 1510 962 1470Z" fill="#d8d8d8"/><path d="M945 1485H955L953 1510 950 1516 947 1510Z" fill="#555"/>
<path d="M792 1549V1488L825 1470 838 1452 875 1466 892 1490 897 1549Z" fill="#14161a"/>
<path d="M838 1452 872 1468 862 1478Z" fill="#e8e4d8"/>
<ellipse cx="832" cy="1432" rx="19" ry="22" fill="#c4c2bc"/>
<ellipse cx="858" cy="1432" rx="16" ry="30" fill="#b8a898"/>
<path d="M1002 1549V1492L1040 1470 1060 1462 1107 1490V1549Z" fill="#2c2e30"/>
<path d="M1040 1470 1048 1490 1066 1462Z" fill="#d8d4cc"/><path d="M1044 1482 1054 1478 1050 1492Z" fill="#222"/>
<ellipse cx="1047" cy="1431" rx="21" ry="34" fill="#b0a99f"/>
<path d="M1028 1420Q1030 1396 1050 1398 1068 1400 1068 1426L1062 1412Q1046 1404 1034 1412Z" fill="#2e2a26"/>
<rect x="896.200" y="1372" width="1.600" height="177" fill="#ddd"/><rect x="1001.500" y="1372" width="1.600" height="177" fill="#ddd"/>
<circle cx="826" cy="1405" r="21" fill="#f2d868" stroke="#4a9ad0" stroke-width="3"/>
<text class="vt" x="826" y="1415" text-anchor="middle" font-size="26" transform="rotate(-12 826 1405)" style="fill:#111">EE</text>
<circle cx="1083" cy="1394" r="19" fill="#a88f3c"/>
<text class="vt" x="1083" y="1403" text-anchor="middle" font-size="25" transform="rotate(-12 1083 1394)" style="fill:#111">EE</text>
<text x="858" y="1412" font-size="17.500" style="fill:#fff">The Most Important ...</text>
<rect x="880" y="1437" width="32" height="24" fill="#f2d868"/><text class="vt" x="896" y="1456" text-anchor="middle" font-size="19" textLength="20" lengthAdjust="spacingAndGlyphs">VS</text>
<rect x="986" y="1439" width="31" height="24" fill="#f2d868"/><text class="vt" x="1001.500" y="1458" text-anchor="middle" font-size="19" textLength="20" lengthAdjust="spacingAndGlyphs">VS</text>
<rect x="795" y="1486" width="95" height="32" fill="#f2d868"/><text class="vt" x="843" y="1510" text-anchor="middle" font-size="22" textLength="86" lengthAdjust="spacingAndGlyphs">CLASSICAL</text>
<rect x="1012" y="1487" width="90" height="31" fill="#f2d868"/><text class="vt" x="1057" y="1511" text-anchor="middle" font-size="22" textLength="81" lengthAdjust="spacingAndGlyphs">KEYNESIAN</text>
<use href="#play" x="950" y="1461"/>
<rect x="792" y="1548.500" width="315" height="1.200" fill="#111"/>
<text class="s" x="791" y="1572"><tspan class="h">Classic:</tspan> Classic Theory: Keynesian Theory</text>
<text class="s" x="791" y="1599"><tspan class="h">Person:</tspan> Keynes</text>
<use href="#btn" x="1131" y="1277"/><use href="#spk" x="1123" y="1593"/>
</g>
<g id="n2-2-1" class="node">
<rect class="card pink" x="625" y="1274" width="367" height="109" rx="10"/>
<text class="t" x="637.500" y="1301">2.2.1 Phillips Curve <tspan class="a" dx="3">▶</tspan></text>
<rect class="box" x="637.500" y="1312" width="342" height="62"/>
<text class="b" x="645" y="1338">The <tspan class="h">Phillips Curve</tspan> represents the short-</text>
<text class="b" x="645" y="1363">term inverse relationship between inflation</text>
<use href="#btn" x="977" y="1289"/><use href="#spk" x="969" y="1358"/>
</g>

<g id="n2-4" class="node">
<rect class="card blue" x="444" y="666" width="366.500" height="109" rx="10"/>
<text class="t" x="456" y="693">2.4 Fiscal Policy</text>
<rect class="box" x="456" y="704" width="342" height="63"/>
<text class="b e" x="778" y="730"><tspan class="h">Fiscal Policy</tspan> refers to government use of</text>
<text class="b e" x="753.500" y="756">and spending to influence the</text>
<use href="#btn" x="799" y="681"/><use href="#spk" x="788" y="751"/>
</g>
<g id="n2-5" class="node">
<rect class="card green" x="433" y="585" width="366.500" height="109" rx="10"/>
<text class="t" x="445.500" y="612">2.5 Monetary Policy</text>
<rect class="box" x="445.500" y="623" width="342" height="63"/>
<text class="b" x="453" y="649"><tspan class="h">Monetary Policy</tspan> is conducted by a</text>
<text class="b" x="453" y="675">country's central bank (e.g., the Federal</text>
<use href="#spk" x="777" y="670"/>
</g>
<g id="n2-6" class="node">
<rect class="card yel" x="436" y="505" width="367" height="108" rx="10"/>
<text class="t e" x="652" y="532">International Trade <tspan class="a" dx="3">▶</tspan></text>
<rect class="box" x="448.500" y="543" width="342" height="62"/>
<text class="b e" x="781.500" y="568"><tspan class="h">International Trade</tspan> involves the exchange</text>
<text class="b" x="456" y="593">of goods and services across national</text>
<use href="#btn" x="788" y="518"/><use href="#spk" x="781" y="588"/>
</g>
<g id="n2-6-1" class="node">
<rect class="card yel" x="175" y="476" width="367" height="109" rx="10"/>
<text class="t" x="187.500" y="503">2.6.1 Comparative Advantage <tspan class="a" dx="3">▶</tspan></text>
<rect class="box" x="187.500" y="514" width="342" height="63"/>
<text class="b" x="195" y="540"><tspan class="h">Comparative Advantage</tspan> is the ability of a</text>
<text class="b" x="195" y="565">country to produce a good at a lower</text>
<use href="#btn" x="527" y="491"/><use href="#spk" x="519" y="560"/>
</g>
<g id="n2-4-1" class="node">
<rect class="card green" x="186.500" y="719" width="366.500" height="109" rx="10"/>
<text class="t" x="199" y="746">2.4.1 Quantity Theory of Money <tspan class="a" dx="3">▶</tspan></text>
<rect class="box" x="199" y="757" width="342" height="62"/>
<text class="b" x="206" y="783">The <tspan class="h">Quantity Theory of Money</tspan> links</text>
<text class="b" x="206" y="808">money supply with price levels using the</text>
<use href="#btn" x="538" y="734"/><use href="#spk" x="530" y="803"/>
</g>

<g id="n0" class="node">
<rect class="card pink" x="958" y="531" width="365" height="222" rx="10" stroke="#000" stroke-width="3"/>
<text x="972" y="567" font-size="19.700" font-weight="700" style="fill:#000">0. Economics <tspan class="a" dx="3" font-size="14">▶</tspan></text>
<rect class="box" x="972" y="580" width="338" height="63"/>
<text x="980" y="608" font-size="18.800"><tspan class="h">Economics</tspan> is the social science</text>
<text x="980" y="639" font-size="18.800">that studies how individuals,</text>
<text x="972" y="670" font-size="17.100"><tspan class="h">Classic:</tspan> Classic Theory: Market</text>
<text x="972" y="697" font-size="17.100">Equilibrium</text>
<text x="972" y="728" font-size="17.100"><tspan class="h">Person:</tspan> Adam Smith</text>
<use href="#btn" x="1307" y="547"/><use href="#spk" x="1299" y="727"/>
</g>
</svg>
